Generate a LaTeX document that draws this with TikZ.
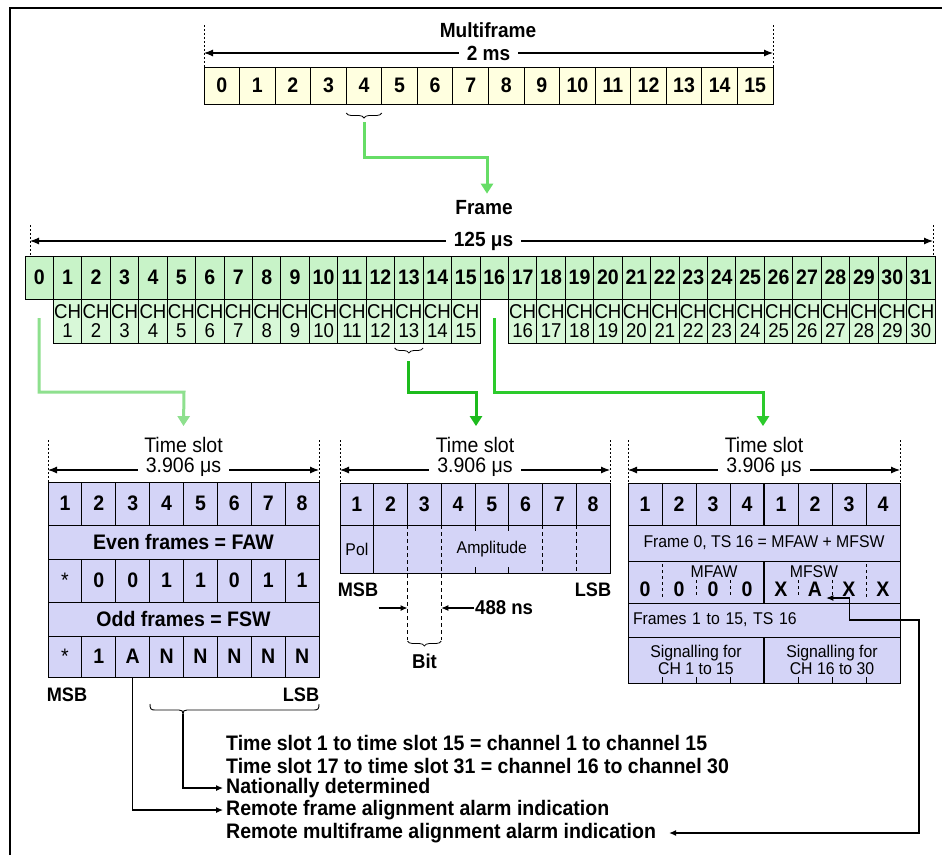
\documentclass[tikz,border=0pt]{standalone}
\usepackage{fontspec}
\setmainfont{Liberation Sans}[FakeStretch=0.93]
\usetikzlibrary{arrows.meta,decorations.pathreplacing,calc}
\newcommand\myfs[1]{\fontsize{#1}{#1}\selectfont}
\definecolor{mfyel}{HTML}{FFFFE0}
\definecolor{frgreen}{HTML}{C8F3C8}
\definecolor{chgreen}{HTML}{D8F8D8}
\definecolor{lav}{HTML}{D4D4F7}
\definecolor{lgreen}{HTML}{8EE08E}
\definecolor{tgreen}{HTML}{66DD66}
\definecolor{mgreen}{HTML}{1DBB1D}
\definecolor{bgreen}{HTML}{2CCB2C}
\begin{document}
\begin{tikzpicture}[x=1pt,y=-1pt,
  cell/.style={draw=black, line width=0.9pt, inner sep=0pt, outer sep=0pt, anchor=north west},
  mfcell/.style={cell, fill=mfyel, minimum width=35.5625pt, minimum height=37pt, font=\bfseries\myfs{21}},
  frcell/.style={cell, fill=frgreen, minimum width=28.4375pt, minimum height=43pt, font=\bfseries\myfs{21}},
  chcell/.style={cell, fill=chgreen, minimum width=28.4375pt, minimum height=44pt, font=\myfs{20}, align=center},
  lavcell/.style={cell, fill=lav, font=\bfseries\myfs{21}},
  dim/.style={{Latex[length=9pt,width=7pt]}-{Latex[length=9pt,width=7pt]}, line width=1.1pt},
  limit/.style={dash pattern=on 2pt off 2pt, line width=0.8pt},
  lab/.style={font=\myfs{21}, inner sep=1pt},
  blab/.style={font=\bfseries\myfs{20.5}, inner sep=1pt},
  gap/.style={fill=white, inner xsep=8pt, inner ysep=1pt},
  gconn/.style={line width=3pt, -{Triangle[length=10pt,width=12pt]}},
  brc/.style={decorate, decoration={brace, amplitude=5pt}, line width=0.8pt},
  sig/.style={line width=1.1pt},
  tip/.style={-{Latex[length=7pt,width=6pt]}},
  dsh/.style={dash pattern=on 4pt off 3pt, line width=0.9pt},
  rdsh/.style={dash pattern=on 3pt off 3pt, line width=0.9pt},
  txt/.style={font=\bfseries\myfs{21}, anchor=west, inner sep=3pt}
]
\useasboundingbox (0,0) rectangle (942,855);
\fill[white] (0,0) rectangle (942,855);
\draw[line width=1.6pt] (10,855) -- (10,8) -- (942,8);

% ---------- Multiframe ----------
\node[blab] (mflabel) at (488,30) {Multiframe};
\foreach \i in {0,...,15} \node[mfcell] (mf\i) at ({204+\i*35.5625},67) {\i};
\draw[limit] (204,25) -- (204,67);
\draw[limit] (773,25) -- (773,67);
\draw[dim] (204,53) -- (773,53) node[midway, blab, gap] {2 ms};
\draw[brc] ($(mf4.south east)+(0,9)$) -- ($(mf4.south west)+(0,9)$);
\coordinate (mfb) at ($(mf4.south)+(0,18)$);

% ---------- Frame ----------
\node[blab] (frlabel) at (484,208) {Frame};
\draw[gconn, tgreen] (mfb) -- ++(0,35) -| ($(frlabel.north)+(3,-6)$);
\draw[limit] (30,225) -- (30,256);
\draw[limit] (933,225) -- (933,256);
\draw[dim] (30,241) -- (933,241) node[midway, blab, gap, xshift=2pt] {125 μs};
\foreach \i in {0,...,31} \node[frcell] (fr\i) at ({25+\i*28.4375},256) {\i};
\foreach \i in {1,...,15} \node[chcell] (ch\i) at ({25+\i*28.4375},299) {CH\\[-1pt]\i};
\foreach \i in {17,...,31} {\pgfmathtruncatemacro\c{\i-1}
  \node[chcell] (ch\i) at ({25+\i*28.4375},299) {CH\\[-1pt]\c};}
\draw[brc] ($(ch13.south east)+(0,5)$) -- ($(ch13.south west)+(0,5)$);
\coordinate (chb) at ($(ch13.south)+(0,18)$);
\coordinate (f0b) at ($(fr0.south)+(0,19)$);
\coordinate (f16b) at ($(fr16.south)+(0,19)$);

% ---------- Time slot labels ----------
\node[lab] (tsL) at (183.5,445) {Time slot};
\node[lab] (tsM) at (475,445) {Time slot};
\node[lab] (tsR) at (764,445) {Time slot};
\draw[gconn, lgreen] (f0b) |- (184,392) -- ($(tsL.north)+(0,-10)$);
\draw[gconn, mgreen] (chb) |- (476,392) -- ($(tsM.north)+(1,-10)$);
\draw[gconn, bgreen] (f16b) |- (763,392) -- ($(tsR.north)+(-1,-10)$);

% ---------- Left panel ----------
\draw[limit] (48,440) -- (48,482);
\draw[limit] (319,440) -- (319,482);
\draw[dim] (48,470) -- (319,470) node[midway, lab, gap, yshift=3pt] {3.906 μs};
\foreach \t [count=\i] in {1,2,3,4,5,6,7,8}
  \node[lavcell, minimum width=33.875pt, minimum height=43pt] (la\i) at ({48+(\i-1)*33.875},482) {\t};
\node[lavcell, minimum width=271pt, minimum height=34pt] (lfaw) at (48,525) {Even frames = FAW};
\foreach \t [count=\i] in {{\mdseries\raisebox{-7pt}{*}},0,0,1,1,0,1,1}
  \node[lavcell, minimum width=33.875pt, minimum height=43pt] (lb\i) at ({48+(\i-1)*33.875},559) {\t};
\node[lavcell, minimum width=271pt, minimum height=34pt] (lfsw) at (48,602) {Odd frames = FSW};
\foreach \t [count=\i] in {{\mdseries\raisebox{-7pt}{*}},1,A,N,N,N,N,N}
  \node[lavcell, minimum width=33.875pt, minimum height=41pt] (lc\i) at ({48+(\i-1)*33.875},636) {\t};
\node[blab, font=\bfseries\myfs{19.5}] (lmsb) at (67,695) {MSB};
\node[blab, font=\bfseries\myfs{19.5}] (llsb) at (301,695) {LSB};

% ---------- Middle panel ----------
\draw[limit] (340,440) -- (340,483);
\draw[limit] (610,440) -- (610,483);
\draw[dim] (340,470) -- (610,470) node[midway, lab, gap, yshift=3pt] {3.906 μs};
\foreach \i in {1,...,8}
  \node[lavcell, minimum width=33.75pt, minimum height=42pt] (ma\i) at ({340+(\i-1)*33.75},483) {\i};
\node[cell, fill=lav, minimum width=33.75pt, minimum height=48pt, font=\myfs{17}] (mpol) at (340,525) {Pol};
\node[cell, fill=lav, minimum width=236.25pt, minimum height=48pt, font=\myfs{17}] (mamp) at (373.75,525) {Amplitude};
\foreach \x in {407.5,441.25} \draw[dsh] (\x,525) -- (\x,640);
\foreach \x in {542.5,576.25} \draw[dsh] (\x,525) -- (\x,573);
\foreach \x in {475,508.75} {\draw[line width=0.9pt] (\x,525) -- (\x,531); \draw[line width=0.9pt] (\x,567) -- (\x,573);}
\node[blab, font=\bfseries\myfs{19.5}] (mmsb) at (358,590) {MSB};
\node[blab, font=\bfseries\myfs{19.5}] (mlsb) at (593,590) {LSB};
\coordinate (b2) at (407.5,608);
\coordinate (b3) at (441.25,608);
\node[blab, font=\bfseries\myfs{20}, anchor=west] (m488) at (474,608) {488 ns};
\draw[sig, tip] ($(b2)+(-29,0)$) -- (b2);
\draw[sig, tip] (m488.west) -- (b3);
\draw[brc] (441.25,641) -- (407.5,641);
\node[blab, font=\bfseries\myfs{20}] (mbit) at (424.5,661) {Bit};

% ---------- Right panel ----------
\draw[limit] (628,440) -- (628,483);
\draw[limit] (900,440) -- (900,483);
\draw[dim] (628,470) -- (900,470) node[midway, lab, gap, yshift=3pt] {3.906 μs};
\foreach \t [count=\i] in {1,2,3,4,1,2,3,4}
  \node[lavcell, minimum width=34pt, minimum height=42pt] (ra\i) at ({628+(\i-1)*34},483) {\t};
\node[cell, fill=lav, minimum width=272pt, minimum height=36pt, font=\myfs{17}] (rf0) at (628,525) {Frame 0, TS 16 = MFAW + MFSW};
\node[cell, fill=lav, minimum width=136pt, minimum height=42pt] (rmfaw) at (628,561) {};
\node[cell, fill=lav, minimum width=136pt, minimum height=42pt] (rmfsw) at (764,561) {};
\node[font=\myfs{17}, inner sep=0pt] (tmfaw) at (714,572) {MFAW};
\node[font=\myfs{17}, inner sep=0pt] (tmfsw) at (814,572) {MFSW};
\foreach \t [count=\i] in {0,0,0,0,X,A,X,X}
  \node[font=\bfseries\myfs{21}, inner sep=0pt] (rb\i) at ({645+(\i-1)*34},589) {\t};
\foreach \x in {662,866} \draw[rdsh] (\x,564) -- (\x,597);
\foreach \x in {696,730,798,832} \draw[rdsh] (\x,580) -- (\x,597);
\node[cell, fill=lav, minimum width=272pt, minimum height=34pt, font=\myfs{17}, text width=262pt, align=left, inner xsep=5pt] (rfr) at (628,603) {Frames 1 to 15, TS 16};
\node[cell, fill=lav, minimum width=136pt, minimum height=46pt, font=\myfs{17}, align=center] (rs1) at (628,637) {Signalling for\\[0pt]CH 1 to 15};
\node[cell, fill=lav, minimum width=136pt, minimum height=46pt, font=\myfs{17}, align=center] (rs2) at (764,637) {Signalling for\\[0pt]CH 16 to 30};
\foreach \x in {662,696,730,798,832,866} \draw[line width=0.9pt] (\x,677) -- (\x,683);
\draw[line width=2.2pt] (ra4.north east) -- (ra4.south east);
\draw[line width=2.2pt] (rmfaw.north east) -- (rmfaw.south east);
\draw[line width=2.2pt] (rs1.north east) -- (rs1.south east);

% ---------- Bottom text ----------
\node[txt] (t1) at (223,743) {Time slot 1 to time slot 15 = channel 1 to channel 15};
\node[txt] (t2) at (223,766) {Time slot 17 to time slot 31 = channel 16 to channel 30};
\node[txt] (t3) at (223,788) {Nationally determined};
\node[txt] (t4) at (223,810) {Remote frame alignment alarm indication};
\node[txt] (t5) at (223,833) {Remote multiframe alignment alarm indication};

% brace under N bits
\coordinate (btip) at (183,714);
\draw[line width=0.9pt] (150,704) .. controls (150,709) and (151,710) .. (155,710) -- (179,710)
  .. controls (182,710) and (183,711) .. (btip) .. controls (183,711) and (184,710) .. (187,710)
  -- (314,710) .. controls (318,710) and (319,709) .. (319,704);
\draw[sig, tip] (btip) |- (t3.west);
\draw[sig, tip] (lc3.south) |- (t4.west);
\draw[sig, {Latex[length=7pt,width=6pt]}-{Latex[length=7pt,width=6pt]}]
  ($(rb6.east)+(4,9)$) -| ($(rb6.east)+(27,31)$) -| (919,833) -- ($(t5.east)+(10,0)$);
\end{tikzpicture}
\end{document}
